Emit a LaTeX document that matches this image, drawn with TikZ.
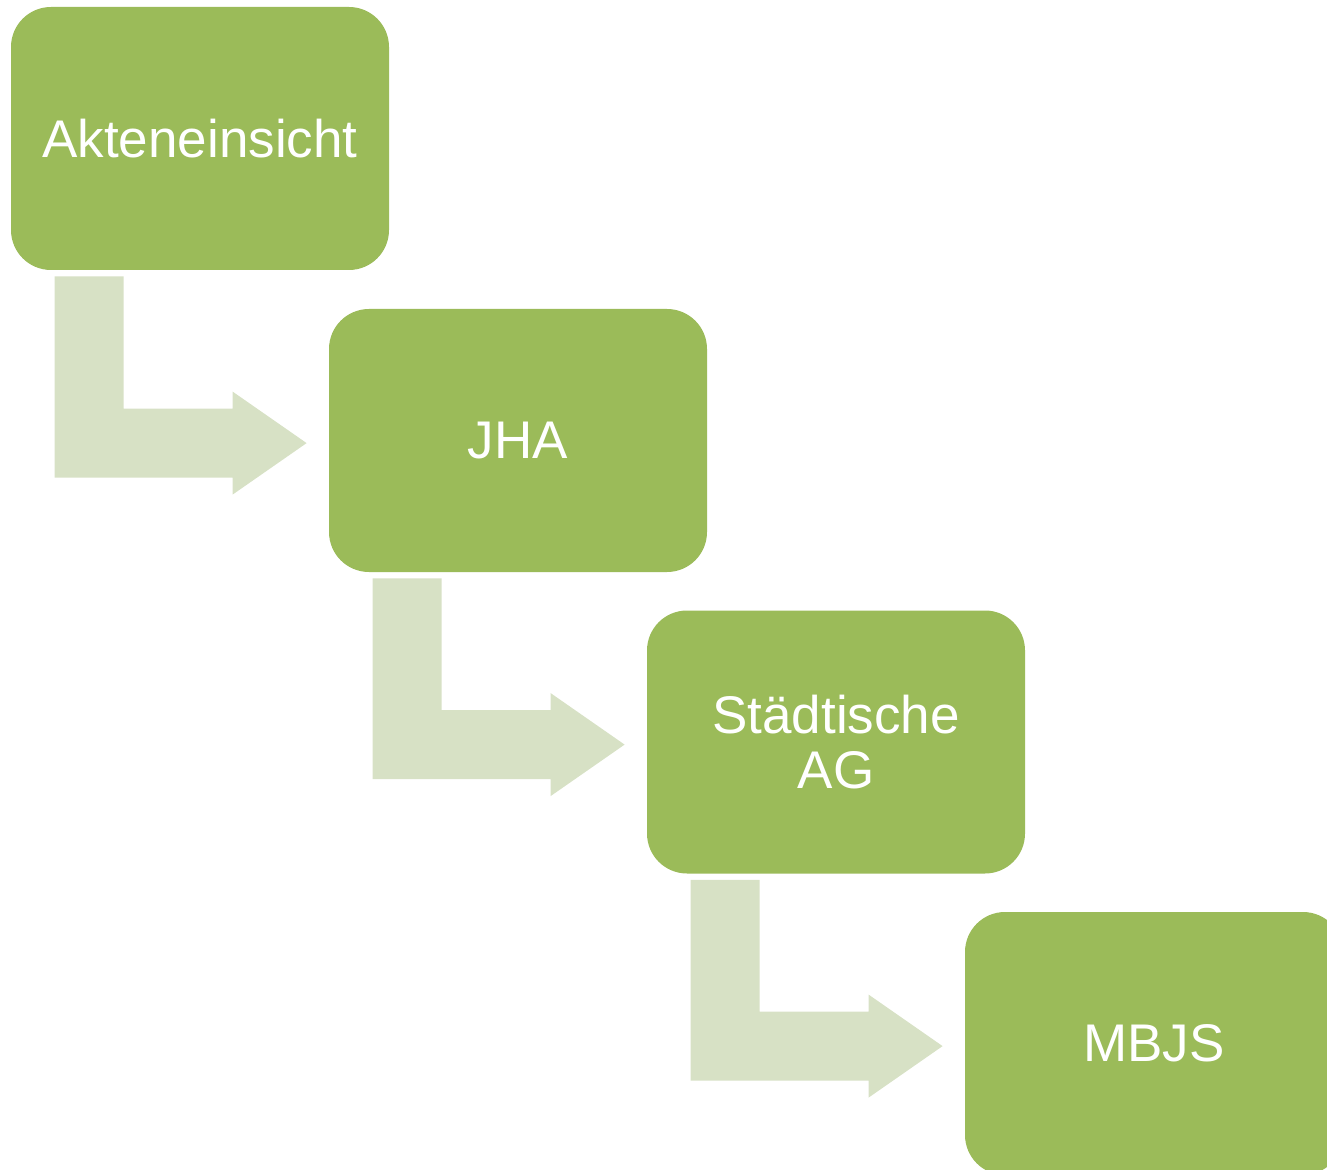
\documentclass[tikz,border=0pt]{standalone}
\usepackage{fontspec}
\setmainfont{Liberation Sans}
\usetikzlibrary{calc}
\definecolor{boxgreen}{HTML}{9BBB59}
\definecolor{arrowgreen}{HTML}{D7E1C5}
\tikzset{
  stepbox/.style={fill=boxgreen, draw=none, rounded corners=20pt,
    minimum width=189pt, minimum height=131.5pt, inner sep=0pt,
    text=white, align=center, font=\fontsize{26.5}{27.5}\selectfont},
  arrowfill/.style={fill=arrowgreen, draw=none}
}
\newcommand\flowarrow[2]{%
  \fill[arrowfill] let \p1=(#1.south west), \p2=(#2.north west) in
    (\x1+22pt,\y1-3pt) -- (\x1+56.5pt,\y1-3pt) -- (\x1+56.5pt,\y2-50pt)
    -- (\x2-48pt,\y2-50pt) -- (\x2-48pt,\y2-41.5pt) -- (\x2-11pt,\y2-67.25pt)
    -- (\x2-48pt,\y2-93pt) -- (\x2-48pt,\y2-84.5pt) -- (\x1+22pt,\y2-84.5pt) -- cycle;}
\begin{document}
\begin{tikzpicture}[x=0.5pt,y=-0.5pt]
\useasboundingbox (0,0) rectangle (1327,1170);
\clip (0,0) rectangle (1327,1170);
\node[stepbox] (b1) at (200,138.5) {Akteneinsicht};
\node[stepbox] (b2) at (518,440.5) {JHA};
\node[stepbox] (b3) at (836,742) {Städtische\\AG};
\node[stepbox] (b4) at (1154,1043.5) {MBJS};
\flowarrow{b1}{b2}
\flowarrow{b2}{b3}
\flowarrow{b3}{b4}
\end{tikzpicture}
\end{document}
